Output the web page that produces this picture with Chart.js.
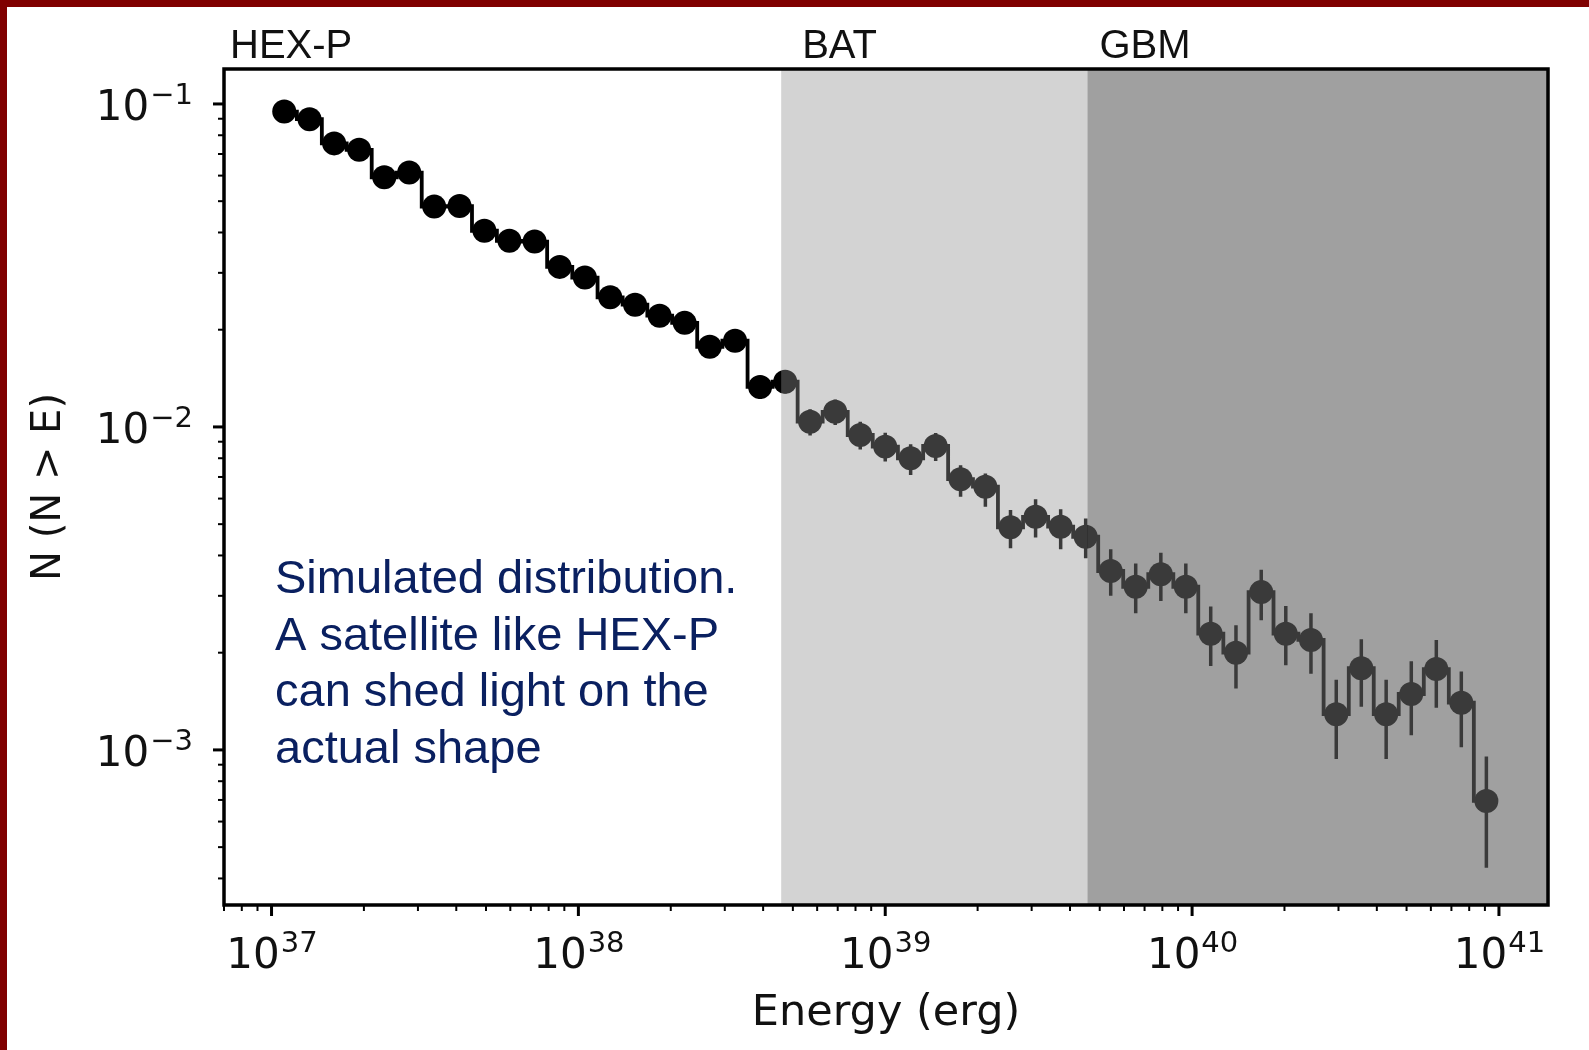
<!DOCTYPE html>
<html>
<head>
<meta charset="utf-8">
<title>N(N&gt;E) distribution</title>
<script src="https://cdn.jsdelivr.net/npm/chart.js@4.4.0/dist/chart.umd.min.js"></script>
<style>
  html, body { margin: 0; padding: 0; background: #fff; }
  #wrap { position: relative; width: 1589px; height: 1050px; overflow: hidden; }
  canvas { display: block; }
</style>
</head>
<body>
<div id="wrap"><canvas id="myChart" width="1589" height="1050"></canvas></div>
<script>
// values
const energy = [1.10e37, 1.33e37, 1.60e37, 1.93e37, 2.33e37, 2.81e37, 3.39e37, 4.10e37, 4.94e37, 5.96e37,
  7.20e37, 8.69e37, 1.05e38, 1.27e38, 1.53e38, 1.84e38, 2.22e38, 2.68e38, 3.24e38, 3.91e38,
  4.72e38, 5.69e38, 6.87e38, 8.29e38, 1.00e39, 1.21e39, 1.46e39, 1.76e39, 2.12e39, 2.56e39,
  3.09e39, 3.73e39, 4.50e39, 5.43e39, 6.55e39, 7.91e39, 9.54e39, 1.15e40, 1.39e40, 1.68e40,
  2.02e40, 2.44e40, 2.95e40, 3.56e40, 4.29e40, 5.18e40, 6.25e40, 7.54e40, 9.10e40];

const nAbove = [0.0947, 0.0897, 0.0755, 0.0721, 0.0593, 0.0613, 0.0481, 0.0483, 0.0405, 0.0377,
  0.0375, 0.0313, 0.0290, 0.0252, 0.0239, 0.0221, 0.0210, 0.0177, 0.0185, 0.0133,
  0.0138, 0.01038, 0.01114, 0.00944, 0.00869, 0.00800, 0.00873, 0.00689, 0.00653, 0.00489,
  0.00527, 0.00491, 0.00457, 0.00358, 0.00320, 0.00350, 0.00320, 0.00229, 0.00200, 0.00308,
  0.00229, 0.00219, 0.00129, 0.00179, 0.00129, 0.00149, 0.00178, 0.00140, 0.000695];

// error bar ends (lower / upper)
const nLow = [0.0918, 0.0868, 0.0729, 0.0695, 0.0570, 0.0589, 0.0460, 0.0462, 0.0386, 0.0358,
  0.0356, 0.0296, 0.0274, 0.0237, 0.0224, 0.0207, 0.0196, 0.0164, 0.0172, 0.0122,
  0.0127, 0.00941, 0.01013, 0.00851, 0.00781, 0.00710, 0.00785, 0.00608, 0.00566, 0.00421,
  0.00455, 0.00418, 0.00392, 0.00300, 0.00265, 0.00289, 0.00265, 0.00182, 0.00155, 0.00252,
  0.00183, 0.00172, 0.000937, 0.00136, 0.000937, 0.00111, 0.00135, 0.00102, 0.000432];

const nHigh = [0.0976, 0.0926, 0.0781, 0.0747, 0.0616, 0.0637, 0.0502, 0.0504, 0.0424, 0.0396,
  0.0394, 0.0330, 0.0306, 0.0267, 0.0254, 0.0235, 0.0224, 0.0190, 0.0198, 0.0144,
  0.0149, 0.01135, 0.01215, 0.01037, 0.00960, 0.00884, 0.00958, 0.00761, 0.00718, 0.00553,
  0.00597, 0.00556, 0.00521, 0.00418, 0.00378, 0.00408, 0.00378, 0.00278, 0.00243, 0.00361,
  0.00279, 0.00265, 0.00165, 0.00220, 0.00165, 0.00188, 0.00219, 0.00175, 0.000954];

// axis limits and tick labels
const xMin = 7.0e36, xMax = 1.445e41;
const yMin = 3.31e-4, yMax = 0.1283;
const xDecades = [1e37, 1e38, 1e39, 1e40, 1e41];
const xTickExp = ["37", "38", "39", "40", "41"];
const yDecades = [1e-1, 1e-2, 1e-3];
const yTickExp = ["\u22121", "\u22122", "\u22123"];

// instrument bands
const bandNames = ["HEX-P", "BAT", "GBM"];
const bandStart = [xMin, 4.58e38, 4.56e39];
const bandEnd = [4.58e38, 4.56e39, xMax];

const noteLines = ["Simulated distribution.", "A satellite like HEX-P", "can shed light on the", "actual shape"];

// style bits
const bandFill = [null, "rgba(145,145,145,0.4)", "rgba(96,96,96,0.6)"];
const bandLabelShift = [6, 21, 12];
const tickFont = '"DejaVu Sans"';

// minor ticks 2..9 x 10^n inside [lo, hi]
function minorTicks(lo, hi) {
  const out = [];
  for (let e = Math.floor(Math.log10(lo)); e <= Math.ceil(Math.log10(hi)); e++) {
    for (let k = 2; k <= 9; k++) {
      const v = k * Math.pow(10, e);
      if (v >= lo * 0.999 && v <= hi * 1.001) out.push(v);
    }
  }
  return out;
}

// draws a "10^exp" label
function powerLabel(ctx, exp, x, y, align) {
  ctx.font = "42px " + tickFont;
  const wb = ctx.measureText("10").width;
  ctx.font = "29px " + tickFont;
  const ws = ctx.measureText(exp).width;
  let left = x;
  if (align === "center") left = x - (wb + ws) / 2;
  if (align === "right") left = x - (wb + ws);
  ctx.textAlign = "left";
  ctx.textBaseline = "alphabetic";
  ctx.font = "42px " + tickFont;
  ctx.fillText("10", left, y);
  ctx.font = "29px " + tickFont;
  ctx.fillText(exp, left + wb + 1, y - 16);
}

const decor = {
  id: "decor",
  beforeDraw(chart) {
    const ctx = chart.ctx;
    ctx.save();
    ctx.fillStyle = "#fff";
    ctx.fillRect(0, 0, chart.width, chart.height);
    ctx.restore();
  },
  beforeDatasetsDraw(chart) {
    // vertical error bars
    const ctx = chart.ctx, a = chart.chartArea;
    const xs = chart.scales.x, ys = chart.scales.y;
    ctx.save();
    ctx.beginPath();
    ctx.rect(a.left, a.top, a.right - a.left, a.bottom - a.top);
    ctx.clip();
    ctx.strokeStyle = "#000";
    ctx.lineWidth = 3.5;
    ctx.beginPath();
    energy.forEach(function (e, i) {
      const px = xs.getPixelForValue(e);
      ctx.moveTo(px, ys.getPixelForValue(nLow[i]));
      ctx.lineTo(px, ys.getPixelForValue(nHigh[i]));
    });
    ctx.stroke();
    ctx.restore();
  },
  afterDatasetsDraw(chart) {
    // shaded detector bands on top of the data
    const ctx = chart.ctx, a = chart.chartArea, xs = chart.scales.x;
    ctx.save();
    bandNames.forEach(function (name, i) {
      if (!bandFill[i]) return;
      const x0 = Math.max(a.left, xs.getPixelForValue(bandStart[i]));
      const x1 = Math.min(a.right, xs.getPixelForValue(bandEnd[i]));
      ctx.fillStyle = bandFill[i];
      ctx.fillRect(x0, a.top, x1 - x0, a.bottom - a.top);
    });
    ctx.restore();
  },
  afterDraw(chart) {
    const ctx = chart.ctx, a = chart.chartArea;
    const xs = chart.scales.x, ys = chart.scales.y;
    ctx.save();
    ctx.fillStyle = "#000";
    ctx.strokeStyle = "#000";

    // frame
    ctx.lineWidth = 3.5;
    ctx.strokeRect(a.left, a.top, a.right - a.left, a.bottom - a.top);

    // x ticks
    ctx.lineWidth = 3;
    xDecades.forEach(function (v) {
      const px = xs.getPixelForValue(v);
      ctx.beginPath(); ctx.moveTo(px, a.bottom); ctx.lineTo(px, a.bottom + 11); ctx.stroke();
    });
    ctx.lineWidth = 2;
    minorTicks(xMin, xMax).forEach(function (v) {
      const px = xs.getPixelForValue(v);
      ctx.beginPath(); ctx.moveTo(px, a.bottom); ctx.lineTo(px, a.bottom + 6); ctx.stroke();
    });
    // y ticks
    ctx.lineWidth = 3;
    yDecades.forEach(function (v) {
      const py = ys.getPixelForValue(v);
      ctx.beginPath(); ctx.moveTo(a.left, py); ctx.lineTo(a.left - 11, py); ctx.stroke();
    });
    ctx.lineWidth = 2;
    minorTicks(yMin, yMax).forEach(function (v) {
      const py = ys.getPixelForValue(v);
      ctx.beginPath(); ctx.moveTo(a.left, py); ctx.lineTo(a.left - 6, py); ctx.stroke();
    });

    // tick labels
    ctx.fillStyle = "#111";
    xDecades.forEach(function (v, i) {
      powerLabel(ctx, xTickExp[i], xs.getPixelForValue(v), a.bottom + 63, "center");
    });
    yDecades.forEach(function (v, i) {
      powerLabel(ctx, yTickExp[i], a.left - 32, ys.getPixelForValue(v) + 16, "right");
    });

    // axis titles
    ctx.font = "43px " + tickFont;
    ctx.textAlign = "center";
    ctx.textBaseline = "alphabetic";
    ctx.fillText("Energy (erg)", (a.left + a.right) / 2, a.bottom + 120);
    ctx.save();
    ctx.translate(50, (a.top + a.bottom) / 2);
    ctx.rotate(-Math.PI / 2);
    ctx.font = "40px " + tickFont;
    ctx.textBaseline = "middle";
    ctx.fillText("N (N > E)", 0, 0);
    ctx.restore();

    // band names above the frame
    ctx.font = '40px "Liberation Sans", Arial, sans-serif';
    ctx.textAlign = "left";
    ctx.textBaseline = "alphabetic";
    ctx.fillStyle = "#111";
    bandNames.forEach(function (name, i) {
      const x0 = Math.max(a.left, xs.getPixelForValue(bandStart[i]));
      ctx.fillText(name, x0 + bandLabelShift[i], a.top - 11);
    });

    // note text
    ctx.font = '47px "Liberation Sans", Arial, sans-serif';
    ctx.fillStyle = "#0a2060";
    noteLines.forEach(function (line, i) {
      ctx.fillText(line, a.left + 51, a.top + 524 + i * 56.5);
    });

    // dark red slide border (top and left)
    ctx.fillStyle = "#800000";
    ctx.fillRect(0, 0, chart.width, 7);
    ctx.fillRect(0, 0, 7, chart.height);
    ctx.restore();
  }
};

const ctx = document.getElementById("myChart").getContext("2d");
const myChart = new Chart(ctx, {
  type: "line",
  data: {
    datasets: [
      {
        label: "N(>E)",
        data: energy.map(function (e, i) { return { x: e, y: nAbove[i] }; }),
        borderColor: "#000",
        backgroundColor: "#000",
        borderWidth: 3.8,
        stepped: "middle",
        pointRadius: 12,
        pointBorderWidth: 0,
        pointBackgroundColor: "#000",
        fill: false,
      },
    ],
  },
  options: {
    responsive: false,
    animation: false,
    layout: {
      autoPadding: false,
      padding: { left: 0, top: 69, right: 41, bottom: 0 },
    },
    scales: {
      x: {
        type: "logarithmic",
        bounds: "data",
        min: xMin,
        max: xMax,
        ticks: { display: false },
        grid: { display: false },
        border: { display: false },
        afterFit: function (scale) { scale.height = 145; },
      },
      y: {
        type: "logarithmic",
        bounds: "data",
        min: yMin,
        max: yMax,
        ticks: { display: false },
        grid: { display: false },
        border: { display: false },
        afterFit: function (scale) { scale.width = 224; },
      },
    },
    plugins: {
      legend: { display: false },
      tooltip: { enabled: false },
    },
  },
  plugins: [decor],
});
</script>
</body>
</html>
